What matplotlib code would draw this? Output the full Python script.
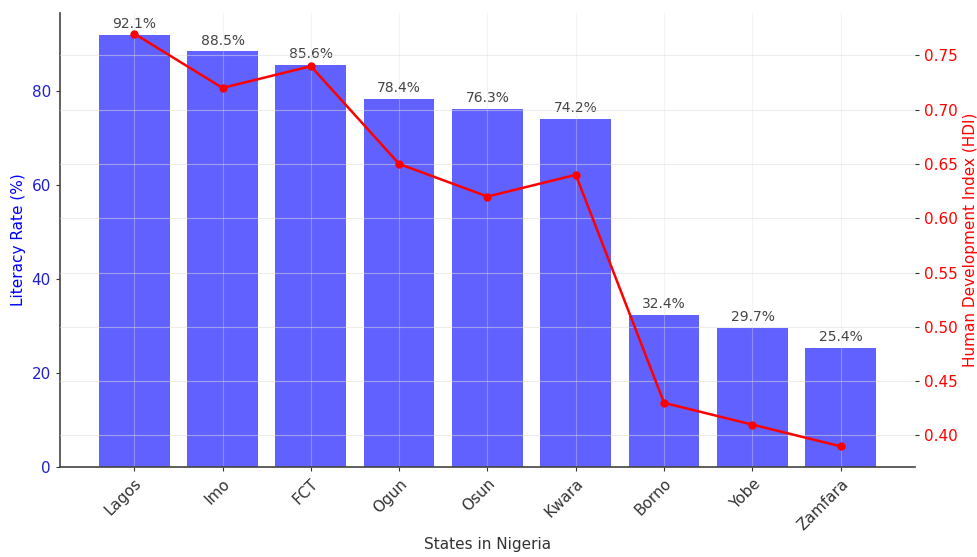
import matplotlib
matplotlib.use("Agg")
import matplotlib.pyplot as plt

states = ["Lagos", "Imo", "FCT", "Ogun", "Osun", "Kwara", "Borno", "Yobe", "Zamfara"]
literacy = [92.1, 88.5, 85.6, 78.4, 76.3, 74.2, 32.4, 29.7, 25.4]
hdi = [0.77, 0.72, 0.74, 0.65, 0.62, 0.64, 0.43, 0.41, 0.39]

plt.rcParams['font.family'] = ['DejaVu Sans']

fig = plt.figure(figsize=(9.77, 5.57), dpi=100)
ax1 = fig.add_axes([0.0614, 0.1616, 0.8751, 0.8151])
ax1.set_axisbelow(False)

x = list(range(len(states)))
bars = ax1.bar(x, literacy, color='blue', alpha=0.62, width=0.8, zorder=2)
for xi, v in zip(x, literacy):
    ax1.text(xi, v + 0.8, f"{v}%", ha='center', va='bottom', fontsize=10, color='#444444')

ax1.set_ylabel("Literacy Rate (%)", color='blue', fontsize=11)
ax1.set_xlabel("States in Nigeria", fontsize=11, color='#333333', labelpad=3)
ax1.set_xticks(x)
ax1.set_xticklabels(states, rotation=45, ha='right', rotation_mode='anchor', fontsize=11, color='#333333')
ax1.tick_params(axis='y', colors='#333333', labelcolor='#2020d0', labelsize=11, length=3)
ax1.tick_params(axis='x', colors='#333333', length=3)
ax1.set_yticks([0, 20, 40, 60, 80])
ax1.grid(True, axis='x', color='#dddddd', linewidth=0.8, alpha=0.35)
for s in ['top', 'right']:
    ax1.spines[s].set_visible(False)
for s in ['left', 'bottom']:
    ax1.spines[s].set_color('#444444')
    ax1.spines[s].set_linewidth(1.2)
    ax1.spines[s].set_zorder(4)

ax2 = ax1.twinx()
ax2.plot(x, hdi, color='red', marker='o', markersize=5, linewidth=1.8, zorder=3)
ax2.set_ylabel("Human Development Index (HDI)", color='red', fontsize=11)
ax2.tick_params(axis='y', colors='#333333', labelcolor='red', labelsize=11, length=3)
ax2.set_yticks([0.40, 0.45, 0.50, 0.55, 0.60, 0.65, 0.70, 0.75])
ax2.grid(True, axis='y', color='#dddddd', linewidth=0.8, alpha=0.5)
for s in ['top', 'right', 'left', 'bottom']:
    ax2.spines[s].set_visible(False)

fig.savefig("out.png", dpi=100)
